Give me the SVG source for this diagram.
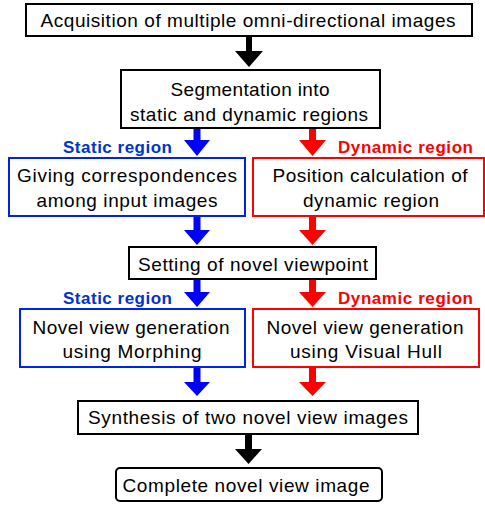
<svg xmlns="http://www.w3.org/2000/svg" width="485" height="505" viewBox="0 0 485 505">
<style>
text{font-family:"Liberation Sans",Arial,sans-serif;font-size:19px;fill:#000;text-anchor:middle}
.lbl{font-weight:bold;font-size:17px;text-anchor:start}
.bl{fill:#0033cc}.rd{fill:#ff0000}
rect{fill:#fff;stroke-width:2}
.k{stroke:#000}.b{stroke:#0022ee}.r{stroke:#ff0000}
</style>
<rect x="0" y="0" width="485" height="505" fill="#fff" stroke="none"/>
<g id="connectors">
<path d="M246 36V51H235L249 67L263 51H252V36Z" fill="#000"/>
<path d="M193.5 128V140H184L197 156L210 140H200.5V128Z" fill="#0000ff"/>
<path d="M309 128V140H299L312.5 156L326 140H316V128Z" fill="#ff0000"/>
<path d="M193.5 216V230H184L197 245L210 230H200.5V216Z" fill="#0000ff"/>
<path d="M309 216V230H299L312.5 245L326 230H316V216Z" fill="#ff0000"/>
<path d="M193.5 280V292H184L197 307L210 292H200.5V280Z" fill="#0000ff"/>
<path d="M309 280V292H299L312.5 307L326 292H316V280Z" fill="#ff0000"/>
<path d="M193.5 367V382H184L197 396L210 382H200.5V367Z" fill="#0000ff"/>
<path d="M309 367V382H299L312.5 396L326 382H316V367Z" fill="#ff0000"/>
<path d="M245 434V449H235L248.5 464L262 449H252V434Z" fill="#000"/>
</g>
<g id="n1"><rect class="k" x="26" y="4" width="446" height="32"/><text x="248" y="27" textLength="415">Acquisition of multiple omni-directional images</text></g>
<g id="n2"><rect class="k" x="121" y="70" width="259" height="58"/><text x="250" y="96" textLength="159">Segmentation into</text><text x="249" y="121" textLength="238">static and dynamic regions</text></g>
<g id="lab1"><text class="lbl bl" x="63" y="153" textLength="109">Static region</text><text class="lbl rd" x="338" y="153" textLength="135">Dynamic region</text></g>
<g id="n3"><rect class="b" x="9" y="158" width="236" height="58"/><text x="127" y="182" textLength="220">Giving correspondences</text><text x="127" y="207" textLength="181">among input images</text></g>
<g id="n4"><rect class="r" x="253" y="158" width="231" height="58"/><text x="370" y="182" textLength="195">Position calculation of</text><text x="371" y="207" textLength="136">dynamic region</text></g>
<g id="n5"><rect class="k" x="129" y="247" width="247" height="32"/><text x="253" y="271" textLength="230">Setting of novel viewpoint</text></g>
<g id="lab2"><text class="lbl bl" x="63" y="304" textLength="109">Static region</text><text class="lbl rd" x="338" y="304" textLength="135">Dynamic region</text></g>
<g id="n6"><rect class="b" x="20" y="309" width="225" height="58"/><text x="131" y="334" textLength="197">Novel view generation</text><text x="132" y="358" textLength="139">using Morphing</text></g>
<g id="n7"><rect class="r" x="253" y="309" width="226" height="58"/><text x="365" y="334" textLength="197">Novel view generation</text><text x="366" y="358" textLength="152">using Visual Hull</text></g>
<g id="n8"><rect class="k" x="78" y="401" width="340" height="33"/><text x="248" y="424" textLength="320">Synthesis of two novel view images</text></g>
<g id="n9"><rect class="k" x="116" y="468" width="266" height="33" rx="4"/><text x="246" y="492" textLength="247">Complete novel view image</text></g>
</svg>
